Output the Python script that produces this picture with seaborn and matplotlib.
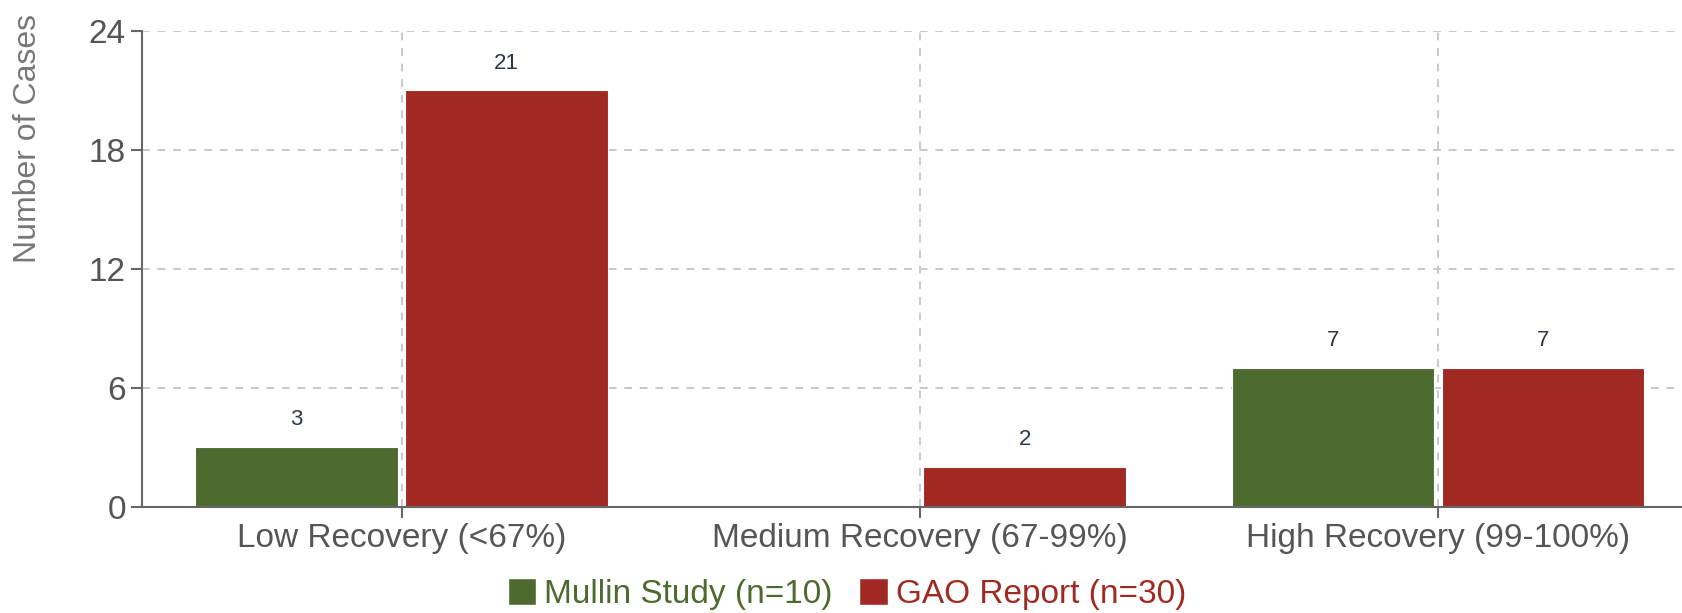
import matplotlib
matplotlib.use("Agg")
import matplotlib.pyplot as plt
import seaborn as sns
import pandas as pd
from matplotlib.patches import Patch

categories = ["Low Recovery (<67%)", "Medium Recovery (67-99%)", "High Recovery (99-100%)"]
series_names = ["Mullin Study (n=10)", "GAO Report (n=30)"]
mullin_values = [3, 0, 7]
gao_values = [21, 2, 7]
y_ticks = [0, 6, 12, 18, 24]

colors = {"Mullin Study (n=10)": "#4d6a2f", "GAO Report (n=30)": "#a02a22"}

rows = []
for c, m, g in zip(categories, mullin_values, gao_values):
    rows.append({"category": c, "series": series_names[0], "value": m})
    rows.append({"category": c, "series": series_names[1], "value": g})
df = pd.DataFrame(rows)

sns.set_theme(style="white")
plt.rcParams['font.family'] = ['Liberation Sans', 'DejaVu Sans']

fig = plt.figure(figsize=(16.83, 6.13), dpi=100)
W, H = 1683, 613
left_px, right_px = 142.5, 1697
top_px, bottom_px = 31, 506.6
ax = fig.add_axes([left_px / W, 1 - bottom_px / H, (right_px - left_px) / W, (bottom_px - top_px) / H])

sns.barplot(data=df, x="category", y="value", hue="series", order=categories,
            hue_order=series_names, palette=colors, width=0.81, gap=0.035,
            edgecolor="white", linewidth=0.8, saturation=1, ax=ax, legend=False, zorder=3)

ax.set_xlim(-0.5, 2.5)
ax.set_ylim(0, 24)
ax.set_yticks(y_ticks)
ax.set_yticklabels([str(v) for v in y_ticks])

# grid
for v in y_ticks[1:]:
    ax.axhline(v, color="#c8c8c8", linestyle=(0, (4, 4)), linewidth=1.4, zorder=1)
for i in range(len(categories)):
    ax.axvline(i, color="#c8c8c8", linestyle=(0, (4, 4)), linewidth=1.4, zorder=1)

for s in ["top", "right"]:
    ax.spines[s].set_visible(False)
for s in ["left", "bottom"]:
    ax.spines[s].set_color("#666666")
    ax.spines[s].set_linewidth(1.5)
    ax.spines[s].set_zorder(4)

ax.tick_params(axis="both", which="major", length=8, width=1.5, color="#666666",
               labelcolor="#555555", labelsize=24, pad=4, left=True, bottom=True)
ax.set_xlabel("")
ax.set_ylabel("Number of Cases", fontsize=23, color="#777777")
ax.yaxis.set_label_coords(-0.064, 0.774)

for cont in ax.containers:
    labels = [f"{int(v)}" if v > 0 else "" for v in cont.datavalues]
    ax.bar_label(cont, labels=labels, padding=12, fontsize=16, color="#2d3748")

handles = [Patch(facecolor=colors[n], edgecolor="white", label=n) for n in series_names]
leg = fig.legend(handles=handles, loc="center", bbox_to_anchor=(847 / W, 1 - 594 / H),
                 ncol=2, frameon=False, fontsize=24, handlelength=0.85, handleheight=0.85,
                 handletextpad=0.25, columnspacing=0.8, borderaxespad=0)
for t, n in zip(leg.get_texts(), series_names):
    t.set_color(colors[n])

fig.savefig("out.png", dpi=100)
